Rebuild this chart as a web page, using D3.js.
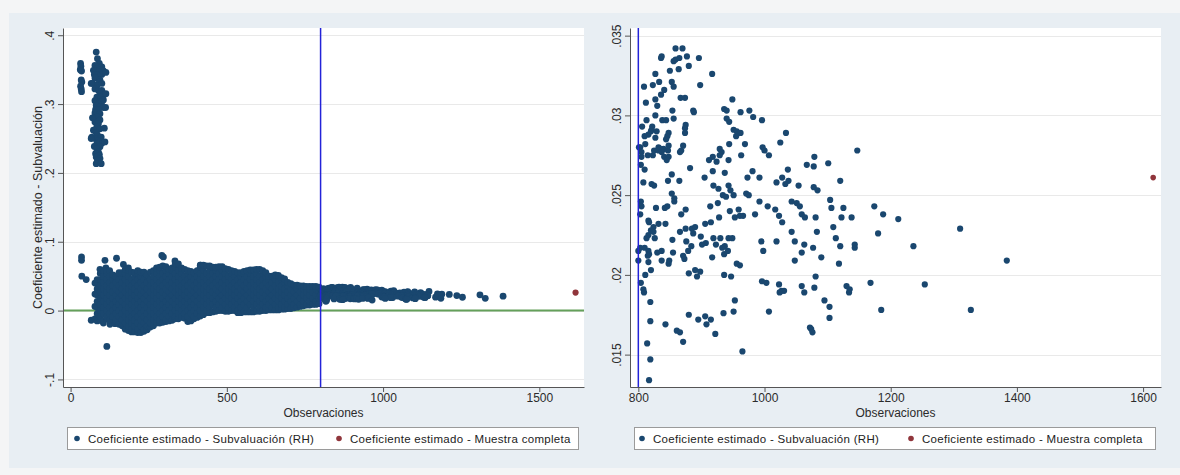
<!DOCTYPE html>
<html>
<head>
<meta charset="utf-8">
<script src="https://cdn.jsdelivr.net/npm/d3@7"></script>
<style>
  body {margin: 0; background: #f4f5f6;}
  svg {display: block; font-family: 'Liberation Sans', Arial, sans-serif;}
</style>
</head>
<body>
<div id="graph"></div>
<script>
// ---- data ----
var cutoff = 800
var fullSample = [[1616, .0261]]

var xTicksLeft = [0, 500, 1000, 1500]
var yTicksLeft = [-.1, 0, .1, .2, .3, .4]
var yLabelsLeft = ['-.1', '0', '.1', '.2', '.3', '.4']
var xTicksRight = [800, 1000, 1200, 1400, 1600]
var yTicksRight = [.015, .02, .025, .03, .035]
var yLabelsRight = ['.015', '.02', '.025', '.03', '.035']

var legendLabels = ['Coeficiente estimado - Subvaluación (RH)', 'Coeficiente estimado - Muestra completa']

// small samples, upper cluster
var highCluster = [
  [32,.359],[33,.355],[31,.350],[35,.348],[34,.335],[36,.332],[32,.326],[34,.322],[35,.318],
  [82,.3755],[86,.366],[92,.359],[78,.356],[100,.354],[84,.351],[94,.350],[73,.349],[105,.348],
  [89,.3465],[100,.343],[84,.342],[76,.343],[78,.338],[94,.335],[92,.332],[71,.330],[84,.327],
  [100,.330],[78,.322],[89,.320],[100,.320],[94,.315],[107,.314],[84,.310],[98,.310],[105,.306],
  [78,.305],[92,.303],[100,.3035],[90,.300],[82,.298],[94,.296],[105,.295],[80,.292],[89,.291],
  [78,.287],[94,.286],[86,.281],[94,.277],[78,.274],[89,.2715],[84,.267],[73,.262],[94,.264],
  [82,.259],[86,.255],[98,.252],[68,.252],[78,.250],[89,.247],[94,.245],[100,.243],[84,.242],
  [76,.2385],[94,.238],[84,.235],[89,.230],[80,.228],[92,.227],[90,.225],[82,.223],[94,.221],
  [86,.218],[82,.2134],[98,.2134],
  [113,.346],[113,.315],[112,.295],[110,.245],[66,.330],[66,.250],[108,.265],[70,.280]
]

// isolated samples around the main cloud
var cloudOutliers = [
  [35,.078],[35,.073],[36,.050],[50,.045],[66,-.014],[94,.060],[116,-.052],[110,.073],[113,.062],
  [105,-.018],[126,-.020],[142,-.019],[147,.076],[169,.067],[292,.080],[297,.078],[334,.072],[416,.066]
]

// main cloud: [observations, [coefficients]]
var cloudA = [
  [78, [-.012,.006,.024,.040]],
  [85, [-.015,-.0045,.0045,.0135,.0225,.0315,.0405,.045]],
  [95, [-.014,-.009,0,.009,.018,.027,.036,.045,.054]],
  [105, [-.015,-.0045,.0045,.0135,.0225,.0315,.0405,.0495,.058]],
  [115, [-.012,-.009,0,.009,.018,.027,.036,.045,.054,.058]],
  [125, [-.014,-.0045,.0045,.0135,.0225,.0315,.0405,.0495,.058]],
  [135, [-.013,-.009,0,.009,.018,.027,.036,.045,.052]],
  [145, [-.016,-.0135,-.0045,.0045,.0135,.0225,.0315,.0405,.050]],
  [155, [-.020,-.009,0,.009,.018,.027,.036,.045,.055]],
  [165, [-.022,-.0135,-.0045,.0045,.0135,.0225,.0315,.0405,.0495,.055]],
  [175, [-.027,-.018,-.009,0,.009,.018,.027,.036,.045,.054,.060]],
  [185, [-.029,-.0225,-.0135,-.0045,.0045,.0135,.0225,.0315,.0405,.0495,.0585,.062]],
  [195, [-.031,-.027,-.018,-.009,0,.009,.018,.027,.036,.045,.056]],
  [205, [-.031,-.0225,-.0135,-.0045,.0045,.0135,.0225,.0315,.0405,.0495,.055]],
  [215, [-.032,-.027,-.018,-.009,0,.009,.018,.027,.036,.045,.054,.058]],
  [225, [-.032,-.0225,-.0135,-.0045,.0045,.0135,.0225,.0315,.0405,.0495,.056]],
  [235, [-.030,-.027,-.018,-.009,0,.009,.018,.027,.036,.045,.056]],
  [245, [-.028,-.0225,-.0135,-.0045,.0045,.0135,.0225,.0315,.0405,.0495,.052]]
]
var cloudB = [
  [255, [-.024,-.018,-.009,0,.009,.018,.027,.036,.045,.056]],
  [265, [-.022,-.0135,-.0045,.0045,.0135,.0225,.0315,.0405,.0495,.058]],
  [275, [-.018,-.009,0,.009,.018,.027,.036,.045,.054,.062]],
  [285, [-.018,-.0135,-.0045,.0045,.0135,.0225,.0315,.0405,.0495,.0585,.063]],
  [295, [-.017,-.009,0,.009,.018,.027,.036,.045,.054,.065]],
  [305, [-.016,-.0135,-.0045,.0045,.0135,.0225,.0315,.0405,.0495,.0585,.064]],
  [315, [-.015,-.009,0,.009,.018,.027,.036,.045,.054,.060]],
  [325, [-.014,-.0045,.0045,.0135,.0225,.0315,.0405,.0495,.0585,.062]],
  [335, [-.012,-.009,0,.009,.018,.027,.036,.045,.054,.063,.068]],
  [345, [-.012,-.0045,.0045,.0135,.0225,.0315,.0405,.0495,.0585,.068]],
  [355, [-.010,0,.009,.018,.027,.036,.045,.054,.062]],
  [365, [-.011,-.0045,.0045,.0135,.0225,.0315,.0405,.0495,.060]],
  [375, [-.016,-.009,0,.009,.018,.027,.036,.045,.054,.058]],
  [385, [-.015,-.0045,.0045,.0135,.0225,.0315,.0405,.0495,.057]],
  [395, [-.012,-.009,0,.009,.018,.027,.036,.045,.055]],
  [405, [-.010,-.0045,.0045,.0135,.0225,.0315,.0405,.0495,.058]],
  [415, [-.008,0,.009,.018,.027,.036,.045,.054,.063,.066]],
  [425, [-.006,.0045,.0135,.0225,.0315,.0405,.0495,.0585,.066]]
]
var cloudC = [
  [435, [-.003,0,.009,.018,.027,.036,.045,.054,.065]],
  [445, [-.003,.0045,.0135,.0225,.0315,.0405,.0495,.0585,.065]],
  [455, [-.002,.009,.018,.027,.036,.045,.054,.063]],
  [465, [-.001,.0045,.0135,.0225,.0315,.0405,.0495,.0585,.063]],
  [475, [0,.009,.018,.027,.036,.045,.054,.064]],
  [485, [0,.0045,.0135,.0225,.0315,.0405,.0495,.0585,.064]],
  [495, [-.001,.009,.018,.027,.036,.045,.054,.061]],
  [505, [-.001,.0045,.0135,.0225,.0315,.0405,.0495,.060]],
  [515, [0,.009,.018,.027,.036,.045,.054,.058]],
  [525, [0,.0045,.0135,.0225,.0315,.0405,.0495,.057]],
  [535, [-.003,0,.009,.018,.027,.036,.045,.055]],
  [545, [-.003,.0045,.0135,.0225,.0315,.0405,.0495,.055]],
  [555, [-.002,.009,.018,.027,.036,.045,.054,.057]],
  [565, [-.002,.0045,.0135,.0225,.0315,.0405,.0495,.058]],
  [575, [-.002,.009,.018,.027,.036,.045,.054,.059]],
  [585, [-.002,.0045,.0135,.0225,.0315,.0405,.0495,.059]],
  [595, [-.001,.009,.018,.027,.036,.045,.054,.060]],
  [605, [-.001,.0045,.0135,.0225,.0315,.0405,.0495,.060]],
  [615, [0,.009,.018,.027,.036,.045,.054,.058]]
]
var cloudD = [
  [625, [0,.0045,.0135,.0225,.0315,.0405,.0495,.055]],
  [635, [.001,.009,.018,.027,.036,.045,.050]],
  [645, [.001,.0045,.0135,.0225,.0315,.0405,.050]],
  [655, [.001,.009,.018,.027,.036,.045,.052]],
  [665, [.001,.0045,.0135,.0225,.0315,.0405,.051]],
  [675, [.002,.009,.018,.027,.036,.045,.048]],
  [685, [.002,.0045,.0135,.0225,.0315,.0405,.046]],
  [695, [.003,.009,.018,.027,.036,.041]],
  [705, [.003,.0135,.0225,.0315,.039]],
  [715, [.004,.009,.018,.027,.037]],
  [725, [.005,.0135,.0225,.0315,.037]],
  [735, [.006,.009,.018,.027,.036]],
  [745, [.007,.0135,.0225,.0315,.036]],
  [755, [.008,.018,.027,.035]],
  [765, [.008,.0135,.0225,.0315,.035]],
  [775, [.009,.018,.027,.035]],
  [785, [.009,.0135,.0225,.0315,.035]],
  [795, [.010,.018,.027,.034]]
]

// samples above the cutoff (shown in both panels)
var tailUpper = [
  [859,.0342],[870,.0342],[836,.0336],[837,.0337],[856,.0334],[859,.0335],[865,.0336],[877,.0337],[896,.0336],
  [864,.0329],[850,.0328],[880,.0331],[827,.0326],[917,.0326],
  [853,.0321],[856,.0318],[809,.0318],[823,.0319],[833,.0321],[898,.0319],
  [841,.0316],[836,.0313],[827,.0310],[867,.0311],[874,.0311],[812,.0308],[830,.0306],
  [854,.0303],[887,.0303],[888,.0302],[936,.0304],[940,.0303],[949,.0310],
  [962,.0302],[976,.0303],[982,.0299],
  [827,.0300],[813,.0297],[838,.0297],[844,.0297],[856,.0298],[940,.0298],[944,.0296],[996,.0297],
  [806,.0293],[822,.0293],[875,.0294],[874,.0292],[821,.0291],[820,.0290],[816,.0288],[829,.0290],
  [951,.0291],[956,.0290],[962,.0289],[955,.0287],[1034,.0289],
  [810,.0287],[827,.0286],[848,.0289],[846,.0287],[874,.0289],
  [844,.0285],[803,.0280],[801,.0280],[811,.0282],[832,.0280],[835,.0279],[840,.0279],[848,.0281],[847,.0278],
  [871,.0281],[868,.0278],[866,.0277],
  [969,.0282],[997,.0280],[1000,.0278],[1007,.0275],[1025,.0283],
  [929,.0279],[932,.0277],[944,.0282],[929,.0275],
  [805,.0277],[805,.0274],[815,.0275],[823,.0275],[825,.0278],[832,.0278],[837,.0277],[841,.0274],[848,.0274],[845,.0272],
  [918,.0274],[912,.0272],[924,.0271],[943,.0272],[963,.0275],
  [1079,.0274],[1067,.0269],[1078,.0268],
  [882,.0267],[804,.0269],[810,.0266],
  [918,.0265],[905,.0261],[937,.0264],[973,.0261],[981,.0265],[992,.0261],
  [1037,.0266],[1028,.0261],[1038,.0259],
  [853,.0263],[847,.0259],[865,.0259],
  [808,.0258],[821,.0257],[825,.0256],
  [1019,.0258],[1033,.0257],[1054,.0256],[1078,.0255],[1084,.0253],
  [919,.0256],[927,.0254],[943,.0256],[946,.0253],[934,.0250],[971,.0251],[853,.0251]
]
var tailLower = [
  [804,.0246],[805,.0243],[803,.0238],
  [828,.0242],[842,.0242],[846,.0243],[857,.0246],[857,.0248],
  [868,.0238],[875,.0241],[914,.0243],[926,.0245],
  [939,.0249],[951,.0250],[975,.0250],
  [945,.0240],[959,.0241],[953,.0236],[961,.0237],[966,.0237],[985,.0238],
  [992,.0246],[1005,.0243],[1017,.0241],[1023,.0237],[1028,.0233],
  [1043,.0246],[1051,.0245],[1056,.0243],[1059,.0238],[1064,.0236],[1081,.0236],[1083,.0227],
  [816,.0234],[817,.0233],[824,.0230],[832,.0232],[843,.0232],
  [820,.0228],[816,.0225],[813,.0223],[826,.0223],[824,.0227],
  [906,.0232],[915,.0233],[928,.0236],
  [866,.0227],[875,.0229],[885,.0229],[890,.0230],[887,.0226],[899,.0224],
  [919,.0223],[930,.0223],[923,.0219],[937,.0218],[933,.0217],[949,.0223],[943,.0223],
  [854,.0222],[855,.0214],[876,.0221],[884,.0218],[907,.0220],[901,.0219],[879,.0215],
  [1043,.0227],[1048,.0221],[1063,.0219],[1077,.0217],[1090,.0211],[1059,.0214],[1048,.0209],
  [995,.0221],[998,.0215],[1019,.0221],
  [800,.0215],[803,.0217],[810,.0217],[816,.0215],[817,.0213],[815,.0212],
  [830,.0214],[837,.0215],[837,.0209],[848,.0207],[849,.0209],
  [871,.0212],[873,.0210],[917,.0211],[936,.0213],[942,.0215],
  [800,.0209],[816,.0208],[820,.0203],[811,.0200],[804,.0195],[808,.0191],[809,.0189],
  [956,.0207],[961,.0206],
  [880,.0201],[890,.0203],[898,.0202],[893,.0199],
  [936,.0200],[947,.0199],
  [996,.0196],[1003,.0195],
  [1023,.0194],[1027,.0190],[1031,.0190],[1024,.0189],[1059,.0193],[1063,.0189],[1079,.0192],
  [1081,.0199],[1095,.0184],
  [819,.0183],[819,.0171],[814,.0157],[819,.0147],[817,.0134],
  [843,.0169],[880,.0175],[895,.0172],[906,.0174],[908,.0169],[915,.0172],[922,.0163],
  [861,.0165],[866,.0164],[871,.0158],
  [935,.0176],[951,.0177],[953,.0184],
  [965,.0152],[1007,.0177],
  [1072,.0167],[1074,.0166],[1076,.0164]
]
var tailRight = [
  [1147,.0278],[1101,.0270],[1120,.0259],[1104,.0247],[1106,.0242],[1125,.0242],[1174,.0243],[1188,.0238],
  [1212,.0235],[1122,.0236],[1138,.0236],[1109,.0230],[1113,.0223],[1120,.0218],[1143,.0219],[1143,.0217],
  [1180,.0226],[1236,.0218],[1310,.0229],[1384,.0209],[1118,.0207],[1130,.0193],[1135,.0191],[1134,.0189],
  [1168,.0195],[1254,.0194],[1103,.0180],[1103,.0173],[1185,.0178],[1327,.0178]
]

var tail = tailUpper.concat(tailLower, tailRight)
var cloud = cloudA.concat(cloudB, cloudC, cloudD)
  .flatMap(col => col[1].map(v => [col[0], v]))
var allSubsamples = highCluster.concat(cloudOutliers, cloud, tail)

// ---- drawing ----
var navy = '#1a476f'
var maroon = '#90353b'
var blue = '#2323d8'
var green = '#64a05a'
var axisGray = '#555'
var textGray = '#2b2b2b'

var svg = d3.select('#graph').append('svg')
  .attr('width', 1180)
  .attr('height', 475)

svg.append('rect')
  .attr('x', 9).attr('y', 13)
  .attr('width', 1171).attr('height', 455)
  .attr('fill', '#e8eef3')

function drawPanel(o){
  var g = svg.append('g')

  var x = d3.scaleLinear().domain(o.xDomain).range([o.left, o.right])
  var y = d3.scaleLinear().domain(o.yDomain).range([o.bottom, o.top])

  g.append('rect')
    .attr('x', o.left).attr('y', o.top)
    .attr('width', o.right - o.left).attr('height', o.bottom - o.top)
    .attr('fill', '#fff')

  g.selectAll('line.grid').data(o.yTicks).join('line')
    .attr('class', 'grid')
    .attr('x1', o.left).attr('x2', o.right)
    .attr('y1', d => Math.round(y(d)) + .5).attr('y2', d => Math.round(y(d)) + .5)
    .attr('stroke', '#e9e9e9')

  if (o.zeroLine){
    g.append('line')
      .attr('x1', o.left).attr('x2', o.right)
      .attr('y1', y(0)).attr('y2', y(0))
      .attr('stroke', green).attr('stroke-width', 2)
  }

  g.selectAll('circle.obs').data(o.points).join('circle')
    .attr('class', 'obs')
    .attr('cx', d => x(d[0]))
    .attr('cy', d => y(d[1]))
    .attr('r', o.r)
    .attr('fill', navy)

  g.selectAll('circle.full').data(fullSample).join('circle')
    .attr('class', 'full')
    .attr('cx', d => x(d[0]))
    .attr('cy', d => y(d[1]))
    .attr('r', o.r - .3)
    .attr('fill', maroon)

  g.append('line')
    .attr('x1', x(cutoff)).attr('x2', x(cutoff))
    .attr('y1', o.top).attr('y2', o.bottom)
    .attr('stroke', blue).attr('stroke-width', 1.5)

  // axes
  var yAxis = d3.axisLeft(y)
    .tickValues(o.yTicks)
    .tickFormat((d, i) => o.yLabels[i])
    .tickSize(5).tickSizeOuter(0)
  var ya = g.append('g')
    .attr('transform', `translate(${o.left},0)`)
    .call(yAxis)
    .attr('font-family', null).attr('font-size', null)
  ya.select('.domain').attr('stroke', axisGray)
  ya.selectAll('.tick line').attr('stroke', axisGray)
  ya.selectAll('.tick text')
    .attr('x', 0).attr('dy', null)
    .attr('text-anchor', 'middle')
    .attr('transform', 'translate(-9,0) rotate(-90)')
    .attr('fill', textGray)
    .style('font-size', '12px')

  var xAxis = d3.axisBottom(x)
    .tickValues(o.xTicks)
    .tickFormat(d3.format('d'))
    .tickSize(5).tickSizeOuter(0)
  var xa = g.append('g')
    .attr('transform', `translate(0,${o.bottom})`)
    .call(xAxis)
    .attr('font-family', null).attr('font-size', null)
  xa.select('.domain').attr('stroke', axisGray)
  xa.selectAll('.tick line').attr('stroke', axisGray)
  xa.selectAll('.tick text')
    .attr('y', 6)
    .attr('fill', textGray)
    .style('font-size', '12px')

  g.append('text')
    .attr('x', (o.left + o.right) / 2).attr('y', 417)
    .attr('text-anchor', 'middle')
    .attr('fill', textGray)
    .style('font-size', '12px')
    .text('Observaciones')

  if (o.yTitle){
    g.append('text')
      .attr('transform', `translate(${o.left - 21},${(o.top + o.bottom) / 2}) rotate(-90)`)
      .attr('text-anchor', 'middle')
      .attr('fill', textGray)
      .style('font-size', '12.5px')
      .text(o.yTitle)
  }

  // legend
  var lg = g.append('g')
  lg.append('rect')
    .attr('x', o.legend.x + .5).attr('y', 427.5)
    .attr('width', o.legend.w).attr('height', 22)
    .attr('fill', '#fff')
    .attr('stroke', '#9a9a9a')
  var keys = [navy, maroon]
  keys.forEach((color, i) => {
    var kx = o.legend.keys[i]
    lg.append('circle')
      .attr('cx', kx).attr('cy', 438.5)
      .attr('r', 2.8)
      .attr('fill', color)
    lg.append('text')
      .attr('x', kx + 11).attr('y', 442.5)
      .attr('fill', '#222')
      .style('font-size', '11.5px')
      .style('letter-spacing', '0.3px')
      .text(legendLabels[i])
  })
}

drawPanel({
  left: 63, right: 584, top: 28, bottom: 387,
  xDomain: [-24.3, 1643], yDomain: [-.111, .4105],
  xTicks: xTicksLeft, yTicks: yTicksLeft, yLabels: yLabelsLeft,
  points: allSubsamples, r: 3.4, zeroLine: true,
  yTitle: 'Coeficiente estimado - Subvaluación',
  legend: {x: 67, w: 511, keys: [77, 339]}
})

drawPanel({
  left: 630, right: 1161, top: 28, bottom: 387,
  xDomain: [786.8, 1628.4], yDomain: [.01297, .03548],
  xTicks: xTicksRight, yTicks: yTicksRight, yLabels: yLabelsRight,
  points: tail, r: 3.1, zeroLine: false,
  legend: {x: 634, w: 521, keys: [642, 911]}
})
</script>
</body>
</html>
